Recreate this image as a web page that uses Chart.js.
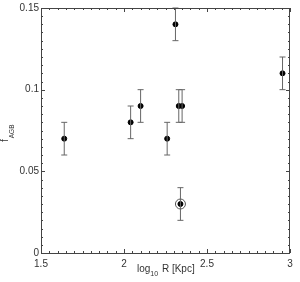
<!DOCTYPE html>
<html>
<head>
<meta charset="utf-8">
<script src="https://cdn.jsdelivr.net/npm/chart.js@4/dist/chart.umd.min.js"></script>
<style>
  html, body { margin: 0; padding: 0; background: #fff; }
  #wrap { width: 300px; height: 282px; }
</style>
</head>
<body>
<div id="wrap"><canvas id="c" width="300" height="282"></canvas></div>
<script>
// data
const logR = [1.64, 2.04, 2.10, 2.31, 2.26, 2.33, 2.35, 2.955];
const fAGB = [0.07, 0.08, 0.09, 0.14, 0.07, 0.09, 0.09, 0.11];
const fErr = [0.01, 0.01, 0.01, 0.01, 0.01, 0.01, 0.01, 0.01];
// the circled point
const circledR = [2.34];
const circledF = [0.03];
const circledErr = [0.01];

const xTickLabels = ['1.5', '2', '2.5', '3'];
const yTickLabels = ['0', '0.05', '0.1', '0.15'];

const FONT = 'Liberation Sans, Arial, sans-serif';

// error bars + circle-point error bar
const errorBars = {
  id: 'errorBars',
  afterDatasetsDraw(chart) {
    const { ctx, scales: { x, y } } = chart;
    const draw = (xs, ys, es) => {
      for (let i = 0; i < xs.length; i++) {
        const px = x.getPixelForValue(xs[i]);
        const top = y.getPixelForValue(ys[i] + es[i]);
        const bot = y.getPixelForValue(ys[i] - es[i]);
        ctx.beginPath();
        ctx.moveTo(px, top); ctx.lineTo(px, bot);
        ctx.moveTo(px - 3, top); ctx.lineTo(px + 3, top);
        ctx.moveTo(px - 3, bot); ctx.lineTo(px + 3, bot);
        ctx.stroke();
      }
    };
    ctx.save();
    ctx.strokeStyle = '#666';
    ctx.lineWidth = 1;
    draw(logR, fAGB, fErr);
    draw(circledR, circledF, circledErr);
    ctx.restore();
  }
};

// box, inward ticks and axis titles with subscripts
const frame = {
  id: 'frame',
  afterDraw(chart) {
    const { ctx, chartArea: a, scales: { x, y } } = chart;
    ctx.save();
    ctx.strokeStyle = '#444';
    ctx.lineWidth = 1;
    ctx.strokeRect(a.left + 0.5, a.top + 0.5, a.right - a.left - 1, a.bottom - a.top);

    ctx.beginPath();
    for (let k = 0; k <= 30; k++) {
      const v = 1.5 + k * 0.05;
      const px = Math.round(x.getPixelForValue(v)) + 0.5;
      const len = k % 10 === 0 ? 4 : 2;
      ctx.moveTo(px, a.bottom); ctx.lineTo(px, a.bottom - len);
      ctx.moveTo(px, a.top); ctx.lineTo(px, a.top + len);
    }
    for (let k = 0; k <= 30; k++) {
      const v = k * 0.005;
      const py = Math.round(y.getPixelForValue(v)) + 0.5;
      const len = k % 10 === 0 ? 4 : 2;
      ctx.moveTo(a.left, py); ctx.lineTo(a.left + len, py);
      ctx.moveTo(a.right, py); ctx.lineTo(a.right - len, py);
    }
    ctx.stroke();

    ctx.fillStyle = '#333';
    ctx.textBaseline = 'alphabetic';
    ctx.textAlign = 'left';
    // x title: log10 R [Kpc]
    let tx = 137;
    ctx.font = '10px ' + FONT;
    ctx.fillText('log', tx, 272);
    tx += ctx.measureText('log').width;
    ctx.font = '7px ' + FONT;
    ctx.fillText('10', tx, 276);
    tx += ctx.measureText('10').width + 1;
    ctx.font = '10px ' + FONT;
    ctx.fillText(' R [Kpc]', tx, 272);

    // y title: f_AGB
    ctx.translate(8, 142);
    ctx.rotate(-Math.PI / 2);
    ctx.font = '10px ' + FONT;
    ctx.fillText('f', 0, 0);
    const fw = ctx.measureText('f').width;
    ctx.font = '6.5px ' + FONT;
    ctx.fillText('AGB', fw + 1, 6);
    ctx.restore();
  }
};

new Chart(document.getElementById('c'), {
  type: 'scatter',
  data: {
    datasets: [
      {
        data: logR.map((r, i) => ({ x: r, y: fAGB[i] })),
        backgroundColor: '#000',
        borderColor: '#000',
        pointRadius: 2.5,
        pointHoverRadius: 2.5
      },
      {
        data: circledR.map((r, i) => ({ x: r, y: circledF[i] })),
        backgroundColor: '#000',
        borderColor: '#000',
        pointRadius: 2.5
      },
      {
        data: circledR.map((r, i) => ({ x: r, y: circledF[i] })),
        backgroundColor: 'rgba(0,0,0,0)',
        borderColor: '#555',
        borderWidth: 1,
        pointRadius: 5
      }
    ]
  },
  plugins: [errorBars, frame],
  options: {
    responsive: false,
    animation: false,
    events: [],
    layout: { padding: { top: 5, right: 10, left: 0, bottom: 0 } },
    plugins: { legend: { display: false }, tooltip: { enabled: false } },
    scales: {
      x: {
        type: 'linear',
        min: 1.5,
        max: 3,
        afterFit: s => { s.height = 29; },
        grid: { display: false, drawTicks: false },
        border: { display: false },
        ticks: {
          stepSize: 0.5,
          padding: 5,
          color: '#333',
          font: { family: FONT, size: 10 },
          maxRotation: 0,
          callback: (v, i) => xTickLabels[i]
        }
      },
      y: {
        type: 'linear',
        min: 0,
        max: 0.15,
        afterFit: s => { s.width = 41; },
        grid: { display: false, drawTicks: false },
        border: { display: false },
        ticks: {
          stepSize: 0.05,
          padding: 2,
          color: '#333',
          font: { family: FONT, size: 10 },
          callback: (v, i) => yTickLabels[i]
        }
      }
    }
  }
});
</script>
</body>
</html>
